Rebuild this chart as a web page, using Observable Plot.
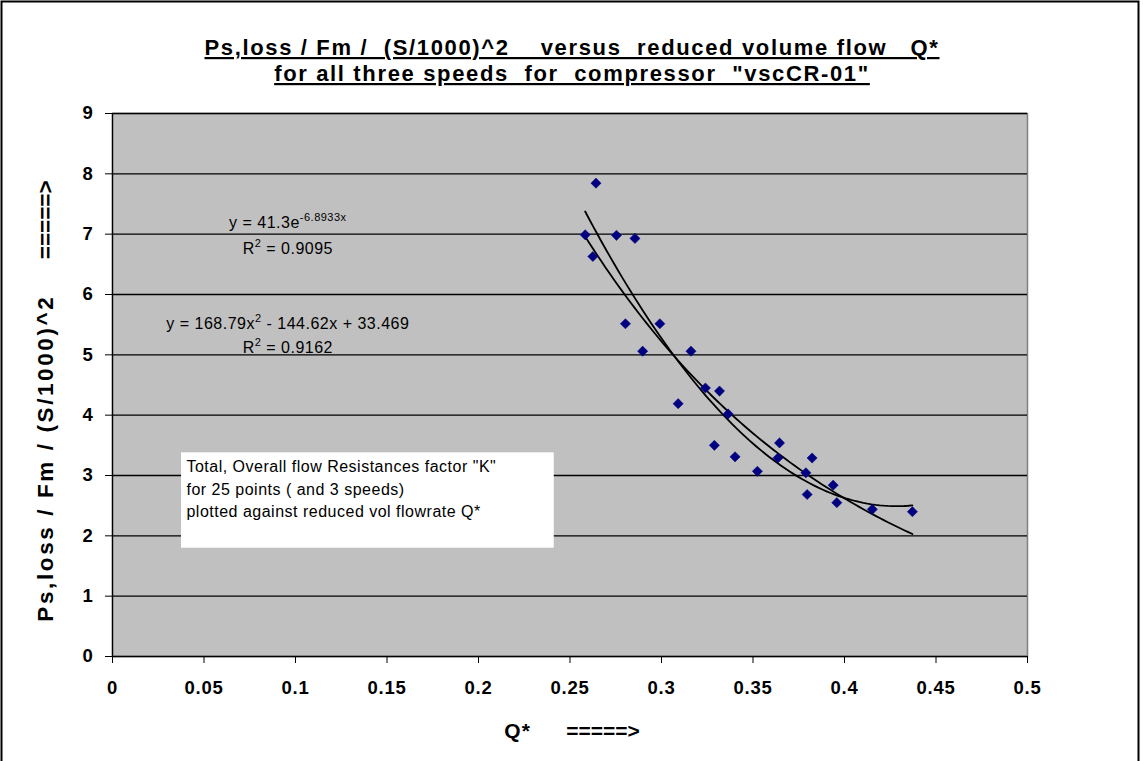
<!DOCTYPE html>
<html>
<head>
<meta charset="utf-8">
<script src="https://cdn.jsdelivr.net/npm/d3@7"></script>
<script src="https://cdn.jsdelivr.net/npm/@observablehq/plot@0.6"></script>
<style>
  body { margin: 0; background: #fff; }
  #chart { width: 1143px; height: 761px; }
  #chart svg text { white-space: pre; }
</style>
</head>
<body>
<div id="chart"></div>
<script>
// ---- data ----
const qStar = [0.2642, 0.2583, 0.2754, 0.2855, 0.2625, 0.2803, 0.2991, 0.2897, 0.3161, 0.3091,
               0.3240, 0.3317, 0.3364, 0.3289, 0.3402, 0.3645, 0.3636, 0.3524, 0.3823, 0.3789,
               0.3796, 0.3938, 0.3958, 0.4152, 0.4371];
const kFactor = [7.845, 6.99, 6.98, 6.93, 6.63, 5.515, 5.515, 5.06, 5.06, 4.19,
                 4.45, 4.40, 4.02, 3.50, 3.31, 3.54, 3.29, 3.07, 3.29, 3.045,
                 2.685, 2.84, 2.55, 2.44, 2.40];
const xTicks = [0, 0.05, 0.1, 0.15, 0.2, 0.25, 0.3, 0.35, 0.4, 0.45, 0.5];
const xTickLabels = ["0", "0.05", "0.1", "0.15", "0.2", "0.25", "0.3", "0.35", "0.4", "0.45", "0.5"];
const yTicks = [0, 1, 2, 3, 4, 5, 6, 7, 8, 9];
const yTickLabels = ["0", "1", "2", "3", "4", "5", "6", "7", "8", "9"];
// trendline equations as printed on the chart
const expCoef = [41.3, -6.8933];             // y = a e^(b x)
const polyCoef = [168.79, -144.62, 33.469];  // y = a x^2 + b x + c
const expLabels = ["y = 41.3e^{-6.8933x}", "R^{2} = 0.9095"];
const polyLabels = ["y = 168.79x^{2} - 144.62x + 33.469", "R^{2} = 0.9162"];
const titleLines = ["Ps,loss / Fm /  (S/1000)^2    versus  reduced volume flow   Q*",
                    "for all three speeds  for  compressor  \"vscCR-01\""];
const boxLines = ["Total, Overall flow Resistances factor \"K\"",
                  "for 25 points ( and 3 speeds)",
                  "plotted against reduced vol flowrate Q*"];
const xTitleParts = ["Q*     ", "=====>"];
const yTitleParts = ["Ps,loss / Fm / (S/1000)^2    ", "=====>"];

// ---- derived tables ----
const points = qStar.map((q, i) => ({q, k: kFactor[i]}));
const qMin = d3.min(qStar), qMax = d3.max(qStar);
const qs = d3.range(0, 81).map(i => qMin + (qMax - qMin) * i / 80);
const expCurve = qs.map(q => ({q, k: expCoef[0] * Math.exp(expCoef[1] * q)}));
const polyCurve = qs.map(q => ({q, k: polyCoef[0] * q * q + polyCoef[1] * q + polyCoef[2]}));

const font = "'Liberation Sans', Arial, Helvetica, sans-serif";

const chart = Plot.plot({
  width: 1143,
  height: 761,
  marginLeft: 112,
  marginRight: 116,
  marginTop: 113,
  marginBottom: 105,
  style: {fontFamily: font, background: "#fff", color: "#000", overflow: "visible"},
  x: {domain: [0, 0.5]},
  y: {domain: [0, 9]},
  marks: [
    Plot.frame({fill: "#C0C0C0", stroke: "#808080", strokeWidth: 1.5}),
    Plot.gridY(yTicks.slice(1), {stroke: "#000", strokeOpacity: 1, strokeWidth: 1.3}),
    Plot.ruleX([0], {stroke: "#000", strokeWidth: 1.3}),
    Plot.ruleY([0], {stroke: "#000", strokeWidth: 1.3}),
    Plot.axisX(xTicks, {tickFormat: d => xTickLabels[xTicks.indexOf(d)], tickSize: 7, tickPadding: 17,
      fontSize: 18.5, fontWeight: "bold", label: null}),
    Plot.axisY(yTicks, {tickFormat: d => yTickLabels[yTicks.indexOf(d)], tickSize: 7, tickPadding: 12,
      fontSize: 18.5, fontWeight: "bold", label: null}),
    // white annotation box
    Plot.rect([0], {x1: 0.0377, x2: 0.2414, y1: 1.795, y2: 3.376, fill: "#fff"}),
    Plot.text([boxLines.join("\n")], {x: 0.0404, y: 3.376, textAnchor: "start", lineAnchor: "top",
      dy: 4, fontSize: 16, lineHeight: 1.38, fill: "#000"}),
    // trendlines
    Plot.line(expCurve, {x: "q", y: "k", stroke: "#000", strokeWidth: 1.8}),
    Plot.line(polyCurve, {x: "q", y: "k", stroke: "#000", strokeWidth: 1.8}),
    // data points
    Plot.dot(points, {x: "q", y: "k", symbol: "diamond2", r: 4.6, fill: "#000080", stroke: "#000080", strokeWidth: 0.5}),
    // trendline labels
    Plot.text(expLabels, {x: 0.0958, y: [7.18, 6.76], fontSize: 16, fill: "#000"}),
    Plot.text(polyLabels, {x: 0.0958, y: [5.52, 5.12], fontSize: 16, fill: "#000"})
  ]
});

document.getElementById("chart").appendChild(chart);

// letter spacing for tick labels and box text (reference text is slightly wider than Arial)
d3.select(chart).selectAll("g[aria-label='x-axis tick label'] text, g[aria-label='y-axis tick label'] text")
  .attr("letter-spacing", 0.8);
d3.select(chart).selectAll("g[aria-label='text'] text").attr("letter-spacing", 0.5);

// ---- titles, axis titles and outer border on the same svg ----
const svg = d3.select(chart);
const g = svg.append("g").attr("font-family", font).attr("fill", "#000");
g.selectAll("text.title").data(titleLines).join("text")
  .attr("class", "title")
  .attr("x", 572).attr("y", (d, i) => 55 + i * 26)
  .attr("text-anchor", "middle")
  .attr("font-size", 22).attr("font-weight", "bold")
  .attr("letter-spacing", 1.65)
  .style("text-decoration", "underline")
  .text(d => d);

const xt = g.append("text").attr("x", 572).attr("y", 738).attr("text-anchor", "middle")
  .attr("font-size", 21).attr("font-weight", "bold");
xt.append("tspan").attr("letter-spacing", 1.2).text(xTitleParts[0]);
xt.append("tspan").attr("letter-spacing", 0).text(xTitleParts[1]);

const yt = g.append("text").attr("transform", "translate(53,401) rotate(-90)").attr("text-anchor", "middle")
  .attr("font-size", 22.5).attr("font-weight", "bold");
yt.append("tspan").attr("letter-spacing", 2.6).text(yTitleParts[0]);
yt.append("tspan").attr("letter-spacing", 0).text(yTitleParts[1]);

svg.append("rect").attr("x", 1.5).attr("y", 1.5).attr("width", 1137).attr("height", 800)
  .attr("fill", "none").attr("stroke", "#000").attr("stroke-width", 2);

// superscripts
chart.querySelectorAll("text").forEach(t => {
  const s = t.textContent;
  if (!s.includes("^{")) return;
  while (t.firstChild) t.removeChild(t.firstChild);
  let up = false;
  s.split(/(\^\{[^}]*\})/).forEach(p => {
    if (!p) return;
    const ts = document.createElementNS("http://www.w3.org/2000/svg", "tspan");
    if (p.startsWith("^{")) {
      ts.textContent = p.slice(2, -1);
      ts.setAttribute("font-size", "11");
      ts.setAttribute("dy", "-7");
      up = true;
    } else {
      ts.textContent = p;
      if (up) { ts.setAttribute("dy", "7"); up = false; }
    }
    t.appendChild(ts);
  });
});
</script>
</body>
</html>
